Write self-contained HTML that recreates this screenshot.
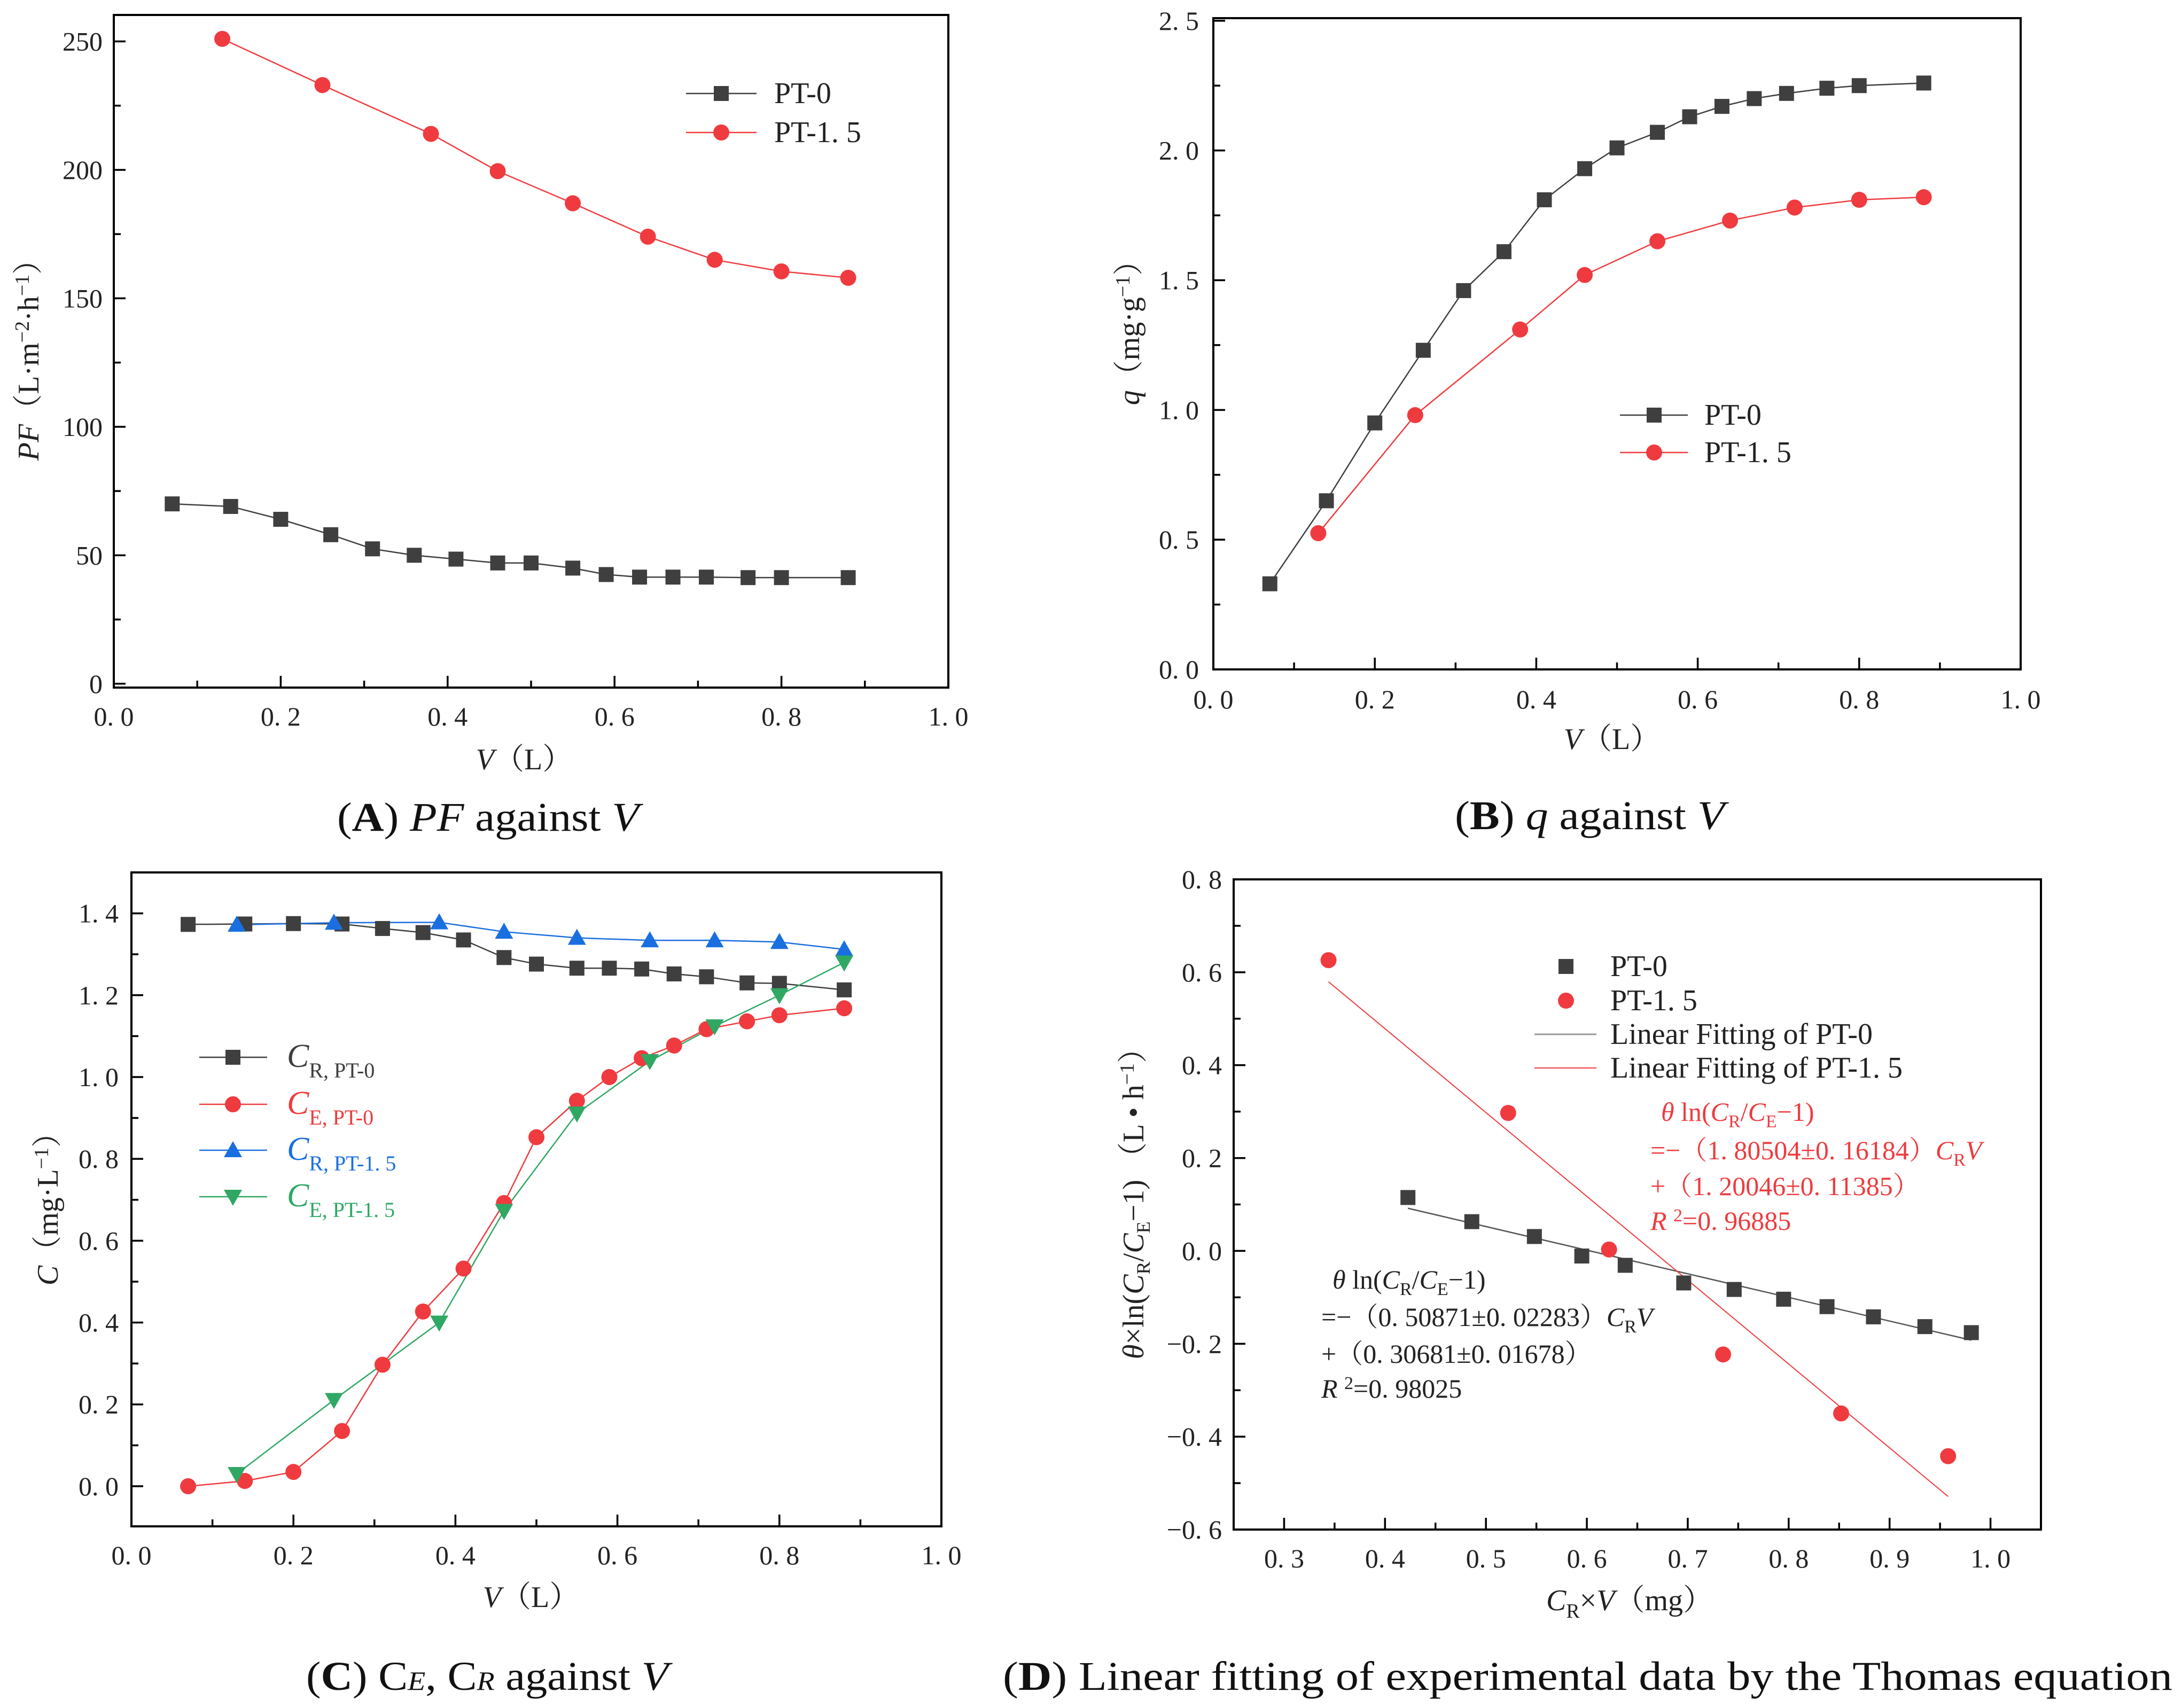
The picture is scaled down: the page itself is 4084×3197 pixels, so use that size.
<!DOCTYPE html>
<html><head><meta charset="utf-8">
<style>
html,body{margin:0;padding:0;background:#fff;}
svg{display:block;}
text{font-family:"Liberation Serif","Noto Serif CJK SC",serif;}
</style></head>
<body>
<svg id="fig" width="4084" height="3197" viewBox="0 0 4084 3197" xmlns="http://www.w3.org/2000/svg"></svg>
<script>
// ---------- Data ----------
// Panel A
const aPT0x = [0.07,0.14,0.2,0.26,0.31,0.36,0.41,0.46,0.5,0.55,0.59,0.63,0.67,0.71,0.76,0.8,0.88];
const aPT0y = [70,69,64,58,52.5,50,48.5,47,47,45,42.5,41.5,41.5,41.5,41.3,41.3,41.3];
const aPT15x = [0.13,0.25,0.38,0.46,0.55,0.64,0.72,0.8,0.88];
const aPT15y = [251,233,214,199.5,187,174,165,160.5,158];
// Panel B
const bPT0y = [0.33,0.65,0.95,1.23,1.46,1.61,1.81,1.93,2.01,2.07,2.13,2.17,2.20,2.22,2.24,2.25,2.26];
const bPT15y = [0.525,0.98,1.31,1.52,1.65,1.73,1.78,1.81,1.82];
// Panel C
const cRPT0 = [1.373,1.374,1.375,1.374,1.363,1.353,1.335,1.292,1.276,1.266,1.266,1.264,1.252,1.245,1.230,1.229,1.213];
const cEPT0 = [0,0.013,0.035,0.135,0.297,0.427,0.532,0.692,0.853,0.942,1.0,1.046,1.077,1.117,1.136,1.151,1.168];
const cRPT15 = [1.372,1.377,1.378,1.355,1.340,1.334,1.334,1.330,1.312];
const cEPT15 = [0.03,0.211,0.40,0.673,0.911,1.039,1.124,1.20,1.28];
// Panel D
const dPT0x = [0.4227,0.486,0.548,0.595,0.638,0.696,0.746,0.795,0.838,0.884,0.935,0.981];
const dPT0y = [0.115,0.063,0.031,-0.011,-0.031,-0.069,-0.083,-0.104,-0.120,-0.142,-0.163,-0.176];
const dPT15x = [0.344,0.522,0.622,0.735,0.852,0.958];
const dPT15y = [0.626,0.297,0.003,-0.223,-0.350,-0.442];
const fitPT0 = [-0.50871,0.30681];
const fitPT15 = [-1.80504,1.20046];

const NS='http://www.w3.org/2000/svg';
const svg=document.getElementById('fig');
const GRAY='#3f3f3f', RED='#ef3b3f', BLUE='#1a6fe0', GREEN='#2fa864';
function el(tag,attrs,parent){const e=document.createElementNS(NS,tag);for(const k in attrs)e.setAttribute(k,attrs[k]);(parent||svg).appendChild(e);return e;}
function fmt(v,d){let s=Math.abs(v).toFixed(d);if(d>0)s=s.replace('.','. ');return (v< -1e-9?'−':'')+s;}

function makeAxes(c){
  const g=el('g',{});
  
  
  c.sx=v=>c.L+(v-c.x0)/(c.x1-c.x0)*(c.R-c.L);
  c.sy=v=>c.B-(v-c.y0)/(c.y1-c.y0)*(c.B-c.T);
  const fr=el('rect',{x:c.L,y:c.T,width:c.R-c.L,height:c.B-c.T,fill:'none',stroke:'#000','stroke-width':4},g);
  
  
  for(let v=c.xt0;v<=c.xt1+1e-9;v+=c.xminor){
    const isMaj=Math.abs(Math.round((v-c.xt0)/c.xmaj)*c.xmaj-(v-c.xt0))<1e-6;
    const x=c.sx(v);
    el('line',{x1:x,x2:x,y1:c.B,y2:c.B-(isMaj?22:13),stroke:'#000','stroke-width':3.5},g);
    if(isMaj){const t=el('text',{x:x,y:c.xly,'font-size':50,'text-anchor':'middle',fill:'#222'},g);t.textContent=fmt(v,c.xd);
      }
  }
  for(let v=c.yt0;v<=c.yt1+1e-9;v+=c.yminor){
    const isMaj=Math.abs(Math.round((v-c.yt0)/c.ymaj)*c.ymaj-(v-c.yt0))<1e-6;
    const y=c.sy(v);
    el('line',{x1:c.L,x2:c.L+(isMaj?22:13),y1:y,y2:y,stroke:'#000','stroke-width':3.5},g);
    if(isMaj){const t=el('text',{x:c.ylx,y:y+17,'font-size':50,'text-anchor':'end',fill:'#222'},g);t.textContent=fmt(v,c.yd);
      }
  }
  return g;
}
function line(c,xs,ys,color,name,w){
  const p=el('polyline',{points:xs.map((x,i)=>c.sx(x)+','+c.sy(ys[i])).join(' '),fill:'none',stroke:color,'stroke-width':w||2.5});
  
  
}
function marker(type,x,y,color,name){
  let m;
  if(type==='sq') m=el('rect',{x:x-14,y:y-14,width:28,height:28,fill:color});
  else if(type==='ci') m=el('circle',{cx:x,cy:y,r:15,fill:color});
  else if(type==='up') m=el('polygon',{points:`${x},${y-17} ${x-17},${y+13} ${x+17},${y+13}`,fill:color});
  else m=el('polygon',{points:`${x},${y+17} ${x-17},${y-13} ${x+17},${y-13}`,fill:color});
  
  
}
function points(c,xs,ys,type,color,name){xs.forEach((x,i)=>marker(type,c.sx(x),c.sy(ys[i]),color,name));}
function text(x,y,size,content,opts){
  const t=el('text',Object.assign({x:x,y:y,'font-size':size,fill:'#222'},opts||{}));
  t.innerHTML=content;
  return t;
}
function named(t,n){return t;}

// ---------- Panel A ----------
const A={name:'chart-a',L:213,R:1775,T:28,B:1287,x0:0,x1:1,y0:-1.5,y1:260.3,xt0:0,xt1:1,xmaj:0.2,xminor:0.1,yt0:0,yt1:250,ymaj:50,yminor:25,xd:1,yd:0,xly:1358,ylx:192};
makeAxes(A);
line(A,aPT0x,aPT0y,GRAY,'pt0-line');
line(A,aPT15x,aPT15y,RED,'pt15-line');
points(A,aPT0x,aPT0y,'sq',GRAY,'pt0-point');
points(A,aPT15x,aPT15y,'ci',RED,'pt15-point');
named(el('line',{x1:1284,x2:1416,y1:175,y2:175,stroke:GRAY,'stroke-width':2.5}),'legend-line-pt0');
marker('sq',1350,175,GRAY,'legend-marker-pt0');
named(text(1449,193,56,'PT-0'),'legend-label-pt0');
named(el('line',{x1:1284,x2:1416,y1:248,y2:248,stroke:RED,'stroke-width':2.5}),'legend-line-pt15');
marker('ci',1350,248,RED,'legend-marker-pt15');
named(text(1449,266,56,'PT-1. 5'),'legend-label-pt15');
named(text(0,0,56,'<tspan font-style="italic">PF</tspan>（L·m<tspan dy="-18" font-size="38">−2</tspan><tspan dy="18">·h</tspan><tspan dy="-18" font-size="38">−1</tspan><tspan dy="18">）</tspan>',{transform:'translate(72,660) rotate(-90)','text-anchor':'middle'}),'y-axis-title');
named(text(981,1440,56,'<tspan font-style="italic">V</tspan>（L）',{'text-anchor':'middle'}),'x-axis-title');
named(text(631,1555,76,'(<tspan font-weight="bold">A</tspan>) <tspan font-style="italic">PF</tspan> against <tspan font-style="italic">V</tspan>',{fill:'#111',textLength:565,lengthAdjust:'spacingAndGlyphs'}),'caption-a');

// ---------- Panel B ----------
const B={name:'chart-b',L:2271,R:3782,T:34,B:1253,x0:0,x1:1,y0:0,y1:2.51,xt0:0,xt1:1,xmaj:0.2,xminor:0.1,yt0:0,yt1:2.5,ymaj:0.5,yminor:0.25,xd:1,yd:1,xly:1326,ylx:2244};
makeAxes(B);
line(B,aPT0x,bPT0y,GRAY,'pt0-line');
line(B,aPT15x,bPT15y,RED,'pt15-line');
points(B,aPT0x,bPT0y,'sq',GRAY,'pt0-point');
points(B,aPT15x,bPT15y,'ci',RED,'pt15-point');
named(el('line',{x1:3032,x2:3159,y1:777,y2:777,stroke:GRAY,'stroke-width':2.5}),'legend-line-pt0');
marker('sq',3096,777,GRAY,'legend-marker-pt0');
named(text(3190,795,56,'PT-0'),'legend-label-pt0');
named(el('line',{x1:3032,x2:3159,y1:847,y2:847,stroke:RED,'stroke-width':2.5}),'legend-line-pt15');
marker('ci',3096,847,RED,'legend-marker-pt15');
named(text(3190,865,56,'PT-1. 5'),'legend-label-pt15');
named(text(0,0,56,'<tspan font-style="italic">q</tspan>（mg·g<tspan dy="-18" font-size="38">−1</tspan><tspan dy="18">）</tspan>',{transform:'translate(2132,609) rotate(-90)','text-anchor':'middle'}),'y-axis-title');
named(text(3017,1402,56,'<tspan font-style="italic">V</tspan>（L）',{'text-anchor':'middle'}),'x-axis-title');
named(text(2723,1552,76,'(<tspan font-weight="bold">B</tspan>) <tspan font-style="italic">q</tspan> against <tspan font-style="italic">V</tspan>',{fill:'#111',textLength:505,lengthAdjust:'spacingAndGlyphs'}),'caption-b');

// ---------- Panel C ----------
const C={name:'chart-c',L:246,R:1762,T:1633,B:2857,x0:0,x1:1,y0:-0.098,y1:1.5,xt0:0,xt1:1,xmaj:0.2,xminor:0.1,yt0:0,yt1:1.4,ymaj:0.2,yminor:0.1,xd:1,yd:1,xly:2928,ylx:222};
makeAxes(C);
line(C,aPT0x,cRPT0,GRAY,'cr-pt0-line');
line(C,aPT0x,cEPT0,RED,'ce-pt0-line');
line(C,aPT15x,cRPT15,BLUE,'cr-pt15-line');
line(C,aPT15x,cEPT15,GREEN,'ce-pt15-line');
points(C,aPT0x,cRPT0,'sq',GRAY,'cr-pt0-point');
points(C,aPT0x,cEPT0,'ci',RED,'ce-pt0-point');
points(C,aPT15x,cRPT15,'up',BLUE,'cr-pt15-point');
points(C,aPT15x,cEPT15,'dn',GREEN,'ce-pt15-point');
[[1979,'sq',GRAY,'R','PT-0','cr-pt0'],[2067,'ci',RED,'E','PT-0','ce-pt0'],[2153,'up',BLUE,'R','PT-1. 5','cr-pt15'],[2240,'dn',GREEN,'E','PT-1. 5','ce-pt15']].forEach(r=>{
  named(el('line',{x1:373,x2:500,y1:r[0],y2:r[0],stroke:r[2],'stroke-width':2.5}),'legend-line-'+r[5]);
  marker(r[1],436,r[0],r[2],'legend-marker-'+r[5]);
  named(text(537,r[0]+18,62,'<tspan font-style="italic">C</tspan><tspan dy="20" font-size="40">'+r[3]+', '+r[4]+'</tspan>',{fill:r[2]}),'legend-label-'+r[5]);
});
named(text(0,0,56,'<tspan font-style="italic">C</tspan>（mg·L<tspan dy="-18" font-size="38">−1</tspan><tspan dy="18">）</tspan>',{transform:'translate(108,2249) rotate(-90)','text-anchor':'middle'}),'y-axis-title');
named(text(994,3008,56,'<tspan font-style="italic">V</tspan>（L）',{'text-anchor':'middle'}),'x-axis-title');
named(text(573,3163,76,'(<tspan font-weight="bold">C</tspan>) C<tspan font-style="italic" font-size="50">E</tspan>, C<tspan font-style="italic" font-size="50">R</tspan> against <tspan font-style="italic">V</tspan>',{fill:'#111',textLength:678,lengthAdjust:'spacingAndGlyphs'}),'caption-c');

// ---------- Panel D ----------
const D={name:'chart-d',L:2309,R:3820,T:1646,B:2863,x0:0.25,x1:1.05,y0:-0.6,y1:0.8,xt0:0.3,xt1:1.0,xmaj:0.1,xminor:0.05,yt0:-0.6,yt1:0.8,ymaj:0.2,yminor:0.1,xd:1,yd:1,xly:2934,ylx:2287};
makeAxes(D);
const f0x=[dPT0x[0],dPT0x[dPT0x.length-1]];
line(D,f0x,f0x.map(x=>fitPT0[0]*x+fitPT0[1]),'#555','fit-line-pt0',2.5);
const f1x=[dPT15x[0],dPT15x[dPT15x.length-1]];
line(D,f1x,f1x.map(x=>fitPT15[0]*x+fitPT15[1]),RED,'fit-line-pt15',2);
points(D,dPT0x,dPT0y,'sq',GRAY,'pt0-point');
points(D,dPT15x,dPT15y,'ci',RED,'pt15-point');
marker('sq',2931,1809,GRAY,'legend-marker-pt0');
named(text(3014,1827,56,'PT-0'),'legend-label-pt0');
marker('ci',2931,1873,RED,'legend-marker-pt15');
named(text(3014,1891,56,'PT-1. 5'),'legend-label-pt15');
named(el('line',{x1:2872,x2:2988,y1:1936,y2:1936,stroke:'#999','stroke-width':3}),'legend-line-fit-pt0');
named(text(3014,1954,56,'Linear Fitting of PT-0'),'legend-label-fit-pt0');
named(el('line',{x1:2872,x2:2988,y1:1999,y2:1999,stroke:RED,'stroke-width':2}),'legend-line-fit-pt15');
named(text(3014,2017,56,'Linear Fitting of PT-1. 5'),'legend-label-fit-pt15');
const ln='<tspan font-style="italic">θ</tspan> ln(<tspan font-style="italic">C</tspan><tspan dy="12" font-size="34">R</tspan><tspan dy="-12">/</tspan><tspan font-style="italic">C</tspan><tspan dy="12" font-size="34">E</tspan><tspan dy="-12">−1)</tspan>';
const cv='<tspan font-style="italic">C</tspan><tspan dy="12" font-size="34">R</tspan><tspan dy="-12" font-style="italic">V</tspan>';
named(text(3109,2098,50,ln,{fill:RED}),'fit-equation-pt15-line1');
named(text(3089,2170,50,'=−（1. 80504±0. 16184）'+cv,{fill:RED}),'fit-equation-pt15-line2');
named(text(3089,2237,50,'+（1. 20046±0. 11385）',{fill:RED}),'fit-equation-pt15-line3');
named(text(3089,2302,50,'<tspan font-style="italic">R</tspan> <tspan dy="-16" font-size="34">2</tspan><tspan dy="16">=0. 96885</tspan>',{fill:RED}),'fit-equation-pt15-line4');
named(text(2494,2412,50,ln),'fit-equation-pt0-line1');
named(text(2473,2482,50,'=−（0. 50871±0. 02283）'+cv),'fit-equation-pt0-line2');
named(text(2473,2551,50,'+（0. 30681±0. 01678）'),'fit-equation-pt0-line3');
named(text(2473,2616,50,'<tspan font-style="italic">R</tspan> <tspan dy="-16" font-size="34">2</tspan><tspan dy="16">=0. 98025</tspan>'),'fit-equation-pt0-line4');
named(text(0,0,56,'<tspan font-style="italic">θ</tspan>×ln(<tspan font-style="italic">C</tspan><tspan dy="12" font-size="36">R</tspan><tspan dy="-12">/</tspan><tspan font-style="italic">C</tspan><tspan dy="12" font-size="36">E</tspan><tspan dy="-12">−1)  （L • h</tspan><tspan dy="-18" font-size="38">−1</tspan><tspan dy="18">）</tspan>',{transform:'translate(2140,2239) rotate(-90)','text-anchor':'middle'}),'y-axis-title');
named(text(3050,3014,56,'<tspan font-style="italic">C</tspan><tspan dy="14" font-size="38">R</tspan><tspan dy="-14">×</tspan><tspan font-style="italic">V</tspan>（mg）',{'text-anchor':'middle'}),'x-axis-title');
named(text(1877,3163,76,'(<tspan font-weight="bold">D</tspan>) Linear fitting of experimental data by the Thomas equation',{fill:'#111',textLength:2189,lengthAdjust:'spacingAndGlyphs'}),'caption-d');
</script>
</body></html>
